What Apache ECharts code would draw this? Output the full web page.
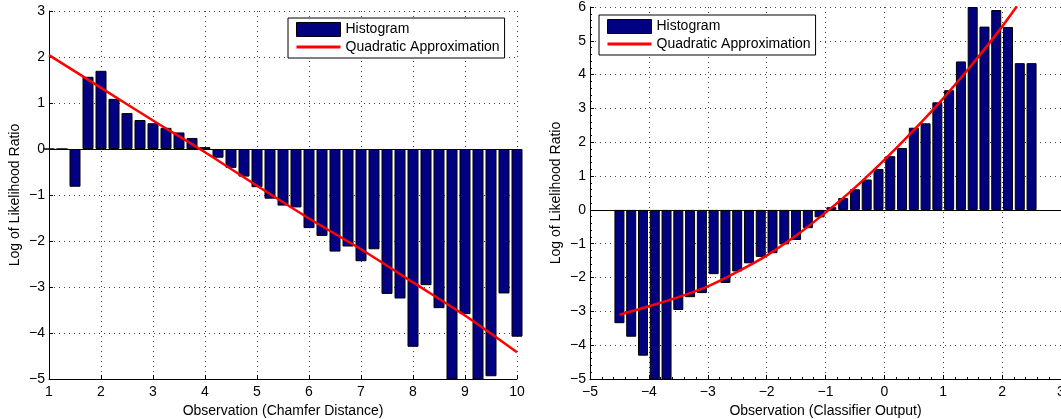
<!DOCTYPE html>
<html><head><meta charset="utf-8">
<script src="https://cdn.jsdelivr.net/npm/echarts@6/dist/echarts.min.js"></script>
<style>html,body{margin:0;padding:0;background:#fff}#c{width:1061px;height:419px}</style>
</head><body><div id="c"></div>
<script>
// Left panel: Chamfer distance histogram
const leftBins = [1, 1.25, 1.5, 1.75, 2, 2.25, 2.5, 2.75, 3, 3.25, 3.5, 3.75, 4, 4.25, 4.5, 4.75, 5, 5.25, 5.5, 5.75, 6, 6.25, 6.5, 6.75, 7, 7.25, 7.5, 7.75, 8, 8.25, 8.5, 8.75, 9, 9.25, 9.5, 9.75, 10];
const leftHist = [0, 0, -0.82, 1.57, 1.70, 1.09, 0.78, 0.63, 0.56, 0.46, 0.36, 0.24, 0.04, -0.19, -0.41, -0.60, -0.83, -1.08, -1.23, -1.27, -1.72, -1.89, -2.23, -2.12, -2.44, -2.18, -3.15, -3.25, -4.30, -2.96, -3.46, -5.6, -3.59, -5.4, -4.94, -3.14, -4.08];
const leftFitX = [1, 2, 3, 4, 5, 6, 7, 8, 9, 10];
const leftFitY = [2.04, 1.33, 0.62, -0.07, -0.80, -1.51, -2.18, -2.90, -3.62, -4.42];

// Right panel: classifier output histogram
const rightBins = [-4.5, -4.3, -4.1, -3.9, -3.7, -3.5, -3.3, -3.1, -2.9, -2.7, -2.5, -2.3, -2.1, -1.9, -1.7, -1.5, -1.3, -1.1, -0.9, -0.7, -0.5, -0.3, -0.1, 0.1, 0.3, 0.5, 0.7, 0.9, 1.1, 1.3, 1.5, 1.7, 1.9, 2.1, 2.3, 2.5];
const rightHist = [-3.35, -3.75, -4.31, -5.5, -5.5, -2.96, -2.58, -2.46, -1.90, -2.16, -1.82, -1.58, -1.39, -1.28, -1.02, -0.89, -0.54, -0.22, 0.08, 0.35, 0.61, 0.90, 1.21, 1.59, 1.83, 2.43, 2.56, 3.18, 3.54, 4.39, 6.0, 5.42, 5.91, 5.41, 4.34, 4.34];
const rightFitX = [-4.5, -4, -3.5, -3, -2.5, -2, -1.5, -1, -0.5, 0, 0.5, 1, 1.5, 2, 2.25];
const rightFitY = [-3.10, -2.85, -2.58, -2.26, -1.83, -1.35, -0.76, -0.08, 0.66, 1.48, 2.36, 3.30, 4.32, 5.42, 6.02];

const xNames = ['Observation (Chamfer Distance)', 'Observation (Classifier Output)'];
const yName = 'Log of Likelihood Ratio';
const seriesNames = ['Histogram', 'Quadratic Approximation'];

const FONT = 'Liberation Sans, Arial, Helvetica, sans-serif';
const minus = v => String(v).replace('-', '\u2212');
const zip = (a, b) => a.map((v, i) => [v, b[i]]);

const dotted = { show: true, lineStyle: { color: '#444', type: [1, 4], width: 1 } };
function xAxis(gi, min, max, name, minor) {
  return {
    type: 'value', gridIndex: gi, min, max, interval: 1, name,
    nameLocation: 'middle', nameGap: 22,
    nameTextStyle: { fontFamily: FONT, fontSize: 14, color: '#000' },
    axisLine: { show: true, onZero: false, lineStyle: { color: '#000', width: 1 } },
    axisTick: { show: true, inside: true, length: 4, lineStyle: { color: '#000' } },
    minorTick: { show: minor, splitNumber: 5, length: 2, lineStyle: { color: '#000' } },
    axisLabel: { fontFamily: FONT, fontSize: 14, color: '#000', margin: 6, formatter: minus, hideOverlap: false },
    splitLine: dotted
  };
}
function yAxis(gi, min, max, minor) {
  return {
    type: 'value', gridIndex: gi, min, max, interval: 1, name: yName,
    nameLocation: 'middle', nameGap: 27, nameRotate: 90,
    nameTextStyle: { fontFamily: FONT, fontSize: 14, color: '#000' },
    axisLine: { show: true, onZero: false, lineStyle: { color: '#000', width: 1 } },
    axisTick: { show: true, inside: true, length: 4, lineStyle: { color: '#000' } },
    minorTick: { show: minor, splitNumber: 5, length: 2, lineStyle: { color: '#000' } },
    axisLabel: { fontFamily: FONT, fontSize: 14, color: '#000', margin: 4, formatter: minus },
    splitLine: dotted
  };
}
function legend(left, top) {
  return {
    left, top, orient: 'vertical', selectedMode: false,
    backgroundColor: '#fff', borderColor: '#000', borderWidth: 1,
    padding: [4, 5, 4, 8], itemWidth: 44, itemHeight: 14, itemGap: 3,
    textStyle: { fontFamily: FONT, fontSize: 14, color: '#000', lineHeight: 14 },
    data: [
      { name: seriesNames[0], icon: 'rect', itemStyle: { color: '#000080', borderColor: '#000', borderWidth: 1 } },
      { name: seriesNames[1], icon: 'path://M0,0H44V3H0Z', itemStyle: { color: '#ff0000', borderWidth: 0 } }
    ]
  };
}
function bars(gi, data, w) {
  return {
    type: 'bar', name: seriesNames[0], xAxisIndex: gi, yAxisIndex: gi,
    data, barWidth: w, clip: true,
    itemStyle: { color: '#000080', borderColor: '#000', borderWidth: 1 },
    markLine: { silent: true, symbol: 'none', label: { show: false },
      lineStyle: { color: '#000', type: 'solid', width: 1 }, data: [{ yAxis: 0 }] },
    z: 2
  };
}
function curve(gi, data) {
  return {
    type: 'line', name: seriesNames[1], xAxisIndex: gi, yAxisIndex: gi,
    data, smooth: 0.3, showSymbol: false, clip: true,
    itemStyle: { color: '#ff0000' },
    lineStyle: { color: '#ff0000', width: 2.5 }, z: 5
  };
}

const chart = echarts.init(document.getElementById('c'), null, { renderer: 'canvas' });
chart.setOption({
  animation: false,
  backgroundColor: '#fff',
  grid: [
    { left: 49, width: 468, top: 11, height: 368, containLabel: false, outerBoundsMode: 'none' },
    { left: 590, width: 471, top: 7, height: 372, containLabel: false, outerBoundsMode: 'none' }
  ],
  xAxis: [xAxis(0, 1, 10, xNames[0], false), xAxis(1, -5, 3, xNames[1], true)],
  yAxis: [yAxis(0, -5, 3, false), yAxis(1, -5, 6, true)],
  legend: [legend(288, 18), legend(599, 15)],
  series: [
    bars(0, zip(leftBins, leftHist), 11),
    curve(0, zip(leftFitX, leftFitY)),
    bars(1, zip(rightBins, rightHist), 10),
    curve(1, zip(rightFitX, rightFitY))
  ]
});
</script>
</body></html>
